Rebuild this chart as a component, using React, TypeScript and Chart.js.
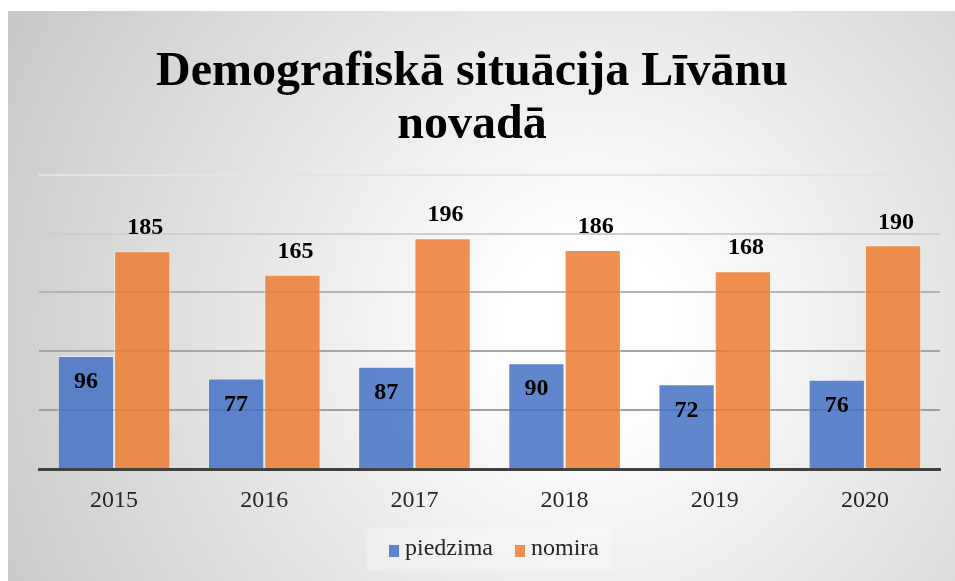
import React, { useEffect, useRef } from "react";
import { Chart, registerables } from "chart.js";

Chart.register(...registerables);

const TITLE_LINES = ["Demografiskā situācija Līvānu", "novadā"];
const YEARS = ["2015", "2016", "2017", "2018", "2019", "2020"];
const BIRTHS = [96, 77, 87, 90, 72, 76];
const DEATHS = [185, 165, 196, 186, 168, 190];
const SERIES_NAMES = ["piedzima", "nomira"];
const GRID_COLORS: Record<number, string> = {
  0: "rgba(0,0,0,0)",
  50: "#9f9f9f",
  100: "#a6a6a6",
  150: "#b4b4b4",
  200: "#cfcfcf",
  250: "#e4e4e4",
};
const SERIES_COLORS = ["rgba(68,114,196,0.85)", "rgba(237,125,49,0.85)"];

const SERIF = "'Liberation Serif'";
Chart.defaults.font.family = SERIF;

const bgPlugin = {
  id: "bgPlugin",
  beforeDraw(chart: any) {
    const ctx = chart.ctx;
    const w = chart.width;
    const h = chart.height;
    ctx.save();
    ctx.fillStyle = "#ffffff";
    ctx.fillRect(0, 0, w, h);
    const g = ctx.createRadialGradient(590, 330, 80, 590, 330, 720);
    g.addColorStop(0, "#ffffff");
    g.addColorStop(1, "#c2c2c2");
    ctx.fillStyle = g;
    ctx.fillRect(8, 11, w - 8, h - 11);
    ctx.fillStyle = "rgba(255,255,255,0.25)";
    ctx.fillRect(367, 529, 245, 42);
    ctx.restore();
  },
};

const legendPlugin = {
  id: "customLegend",
  afterDraw(chart: any) {
    const ctx = chart.ctx;
    ctx.save();
    ctx.font = `24px ${SERIF}`;
    ctx.textBaseline = "middle";
    ctx.textAlign = "left";
    const boxW = 10, boxH = 12, gapText = 6, gapItem = 22;
    const widths = chart.data.datasets.map((d: any) => ctx.measureText(d.label).width);
    let total = 0;
    widths.forEach((wd: number, i: number) => {
      total += boxW + gapText + wd + (i < widths.length - 1 ? gapItem : 0);
    });
    let x = 494 - total / 2;
    const cy = 549;
    chart.data.datasets.forEach((d: any, i: number) => {
      ctx.fillStyle = d.backgroundColor;
      ctx.fillRect(x, cy - boxH / 2 + 2, boxW, boxH);
      x += boxW + gapText;
      ctx.fillStyle = "#262626";
      ctx.fillText(d.label, x, cy);
      x += widths[i] + gapItem;
    });
    ctx.restore();
  },
};

const labelPlugin = {
  id: "labelPlugin",
  afterDatasetsDraw(chart: any) {
    const ctx = chart.ctx;
    ctx.save();
    ctx.font = `bold 24px ${SERIF}`;
    ctx.fillStyle = "#000000";
    ctx.textAlign = "center";
    ctx.textBaseline = "middle";
    chart.data.datasets.forEach((ds: any, di: number) => {
      const meta = chart.getDatasetMeta(di);
      meta.data.forEach((bar: any, i: number) => {
        const v = ds.data[i];
        const y = di === 0 ? bar.y + 26 : bar.y - 23;
        const x = di === 0 ? bar.x : bar.x + 3;
        ctx.fillText(String(v), x, y);
      });
    });
    ctx.restore();
  },
};

export default function App() {
  const ref = useRef<HTMLCanvasElement | null>(null);
  useEffect(() => {
    document.body.style.margin = "0";
    if (!ref.current) return;
    const chart = new Chart(ref.current, {
      type: "bar",
      data: {
        labels: YEARS,
        datasets: [
          {
            label: SERIES_NAMES[0],
            data: BIRTHS,
            backgroundColor: SERIES_COLORS[0],
            borderColor: "rgba(255,255,255,0.45)",
            borderWidth: 1,
          },
          {
            label: SERIES_NAMES[1],
            data: DEATHS,
            backgroundColor: SERIES_COLORS[1],
            borderColor: "rgba(255,255,255,0.45)",
            borderWidth: 1,
          },
        ],
      },
      options: {
        animation: false,
        responsive: false,
        maintainAspectRatio: false,
        layout: { padding: { left: 4, right: 15, top: 0, bottom: 49 } },
        datasets: { bar: { categoryPercentage: 0.75, barPercentage: 1.0 } },
        scales: {
          x: {
            grid: { display: false, drawTicks: false },
            border: { display: true, color: "#404040", width: 3 },
            ticks: {
              padding: 17,
              color: "#262626",
              font: { family: SERIF, size: 24 },
            },
          },
          y: {
            min: 0,
            max: 250,
            ticks: { display: false, stepSize: 50 },
            border: { display: false },
            grid: {
              drawTicks: false,
              lineWidth: 2,
              color: (c: any) => GRID_COLORS[c.tick?.value] ?? "#bbbbbb",
            },
            afterFit: (scale: any) => {
              scale.width = 35;
            },
          },
        },
        plugins: {
          title: {
            display: true,
            text: TITLE_LINES,
            color: "#000000",
            font: { family: SERIF, size: 48, weight: "bold", lineHeight: 1.1 },
            padding: { top: 46, bottom: 23 },
          },
          legend: { display: false },
          tooltip: { enabled: false },
        },
      },
      plugins: [bgPlugin, labelPlugin, legendPlugin],
    });
    return () => chart.destroy();
  }, []);
  return (
    <div style={{ width: 955, height: 581 }}>
      <canvas ref={ref} width={955} height={581} />
    </div>
  );
}
